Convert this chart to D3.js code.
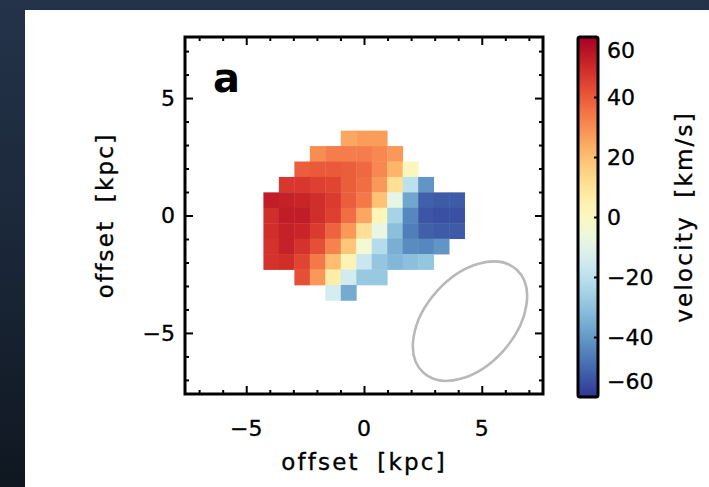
<!DOCTYPE html>
<html>
<head>
<meta charset="utf-8">
<script src="https://cdn.jsdelivr.net/npm/d3@7"></script>
<style>
  html, body { margin: 0; padding: 0; background: #16202d; }
  svg { display: block; }
  text { font-family: "DejaVu Sans", sans-serif; fill: #000; stroke: #000; stroke-width: 0.35px; }
</style>
</head>
<body>
<div id="chart"></div>
<script>
// velocity field (km/s), rows from top to bottom, null = no pixel
var velRows = [
  [null, null, null, null, null,  25,  27,  27, null, null, null, null, null],
  [null, null, null,  30,  33,  33,  33,  31,  28, null, null, null, null],
  [null, null,  39,  40,  40,  39,  37,  31,  22,   1, null, null, null],
  [null,  47,  47,  45,  44,  39,  36,  28,  11, -20, -41, null, null],
  [  53,  52,  51,  49,  46,  39,  34,  19,  -9, -37, -52, -53, -53],
  [  49,  53,  53,  49,  45,  36,  25,   2, -25, -44, -54, -55, -55],
  [  49,  52,  51,  46,  38,  28,  11,  -8, -31, -46, -52, -53, -53],
  [  48,  52,  48,  42,  32,  18,  -4, -22, -35, -43, -44, -41, null],
  [  48,  49,  44,  34,  20,   3, -17, -29, -33, -31, -29, null, null],
  [null, null,  42,  28,   6, -15, -28, -28, null, null, null, null, null],
  [null, null, null, null, -14, -36, null, null, null, null, null, null, null]
];
var pixKpc = 0.657;          // pixel size in kpc
var centerCol = 6, centerRow = 5;

var majorTicks = [-5, 0, 5];
var minorTicks = [-7, -6, -4, -3, -2, -1, 1, 2, 3, 4, 6, 7];
var cbarTicks = [-60, -40, -20, 0, 20, 40, 60];
var velRange = [-60, 60];

// beam (kpc, degrees)
var beam = {x: 4.5, y: -4.5, a: 2.95, b: 1.9, angle: 48};

var W = 709, H = 487;
var box = {left: 185, right: 543, top: 37, bottom: 394};

var svg = d3.select("#chart").append("svg")
    .attr("width", W)
    .attr("height", H);

var defs = svg.append("defs");

// dark frame around the white page
var bg = defs.append("linearGradient").attr("id", "bgGrad")
    .attr("x1", 0).attr("y1", 0).attr("x2", 0).attr("y2", 1);
bg.append("stop").attr("offset", "0%").attr("stop-color", "#24334a");
bg.append("stop").attr("offset", "50%").attr("stop-color", "#1b2739");
bg.append("stop").attr("offset", "100%").attr("stop-color", "#0f1720");

svg.append("rect").attr("width", W).attr("height", H).attr("fill", "url(#bgGrad)");
svg.append("rect").attr("x", 25).attr("y", 10)
    .attr("width", W - 25).attr("height", H - 10)
    .attr("fill", "#fff");

var x = d3.scaleLinear().domain([-7.6, 7.6]).range([box.left, box.right]);
var y = d3.scaleLinear().domain([-7.6, 7.6]).range([box.bottom, box.top]);

// RdYlBu, red = receding
var color = d3.scaleSequential(function(t) { return d3.interpolateRdYlBu(1 - t); })
    .domain(velRange);

// flatten the grid into pixels
var pixels = [];
velRows.forEach(function(row, r) {
  row.forEach(function(v, c) {
    if (v === null) return;
    pixels.push({
      x: (c - centerCol) * pixKpc,
      y: (centerRow - r) * pixKpc,
      v: v
    });
  });
});

var pw = x(pixKpc) - x(0);
var ph = y(0) - y(pixKpc);

svg.append("g").attr("class", "map")
  .selectAll("rect")
  .data(pixels)
  .enter().append("rect")
    .attr("x", function(d) { return x(d.x - pixKpc / 2); })
    .attr("y", function(d) { return y(d.y + pixKpc / 2); })
    .attr("width", pw + 0.4)
    .attr("height", ph + 0.4)
    .attr("fill", function(d) { return color(d.v); });

// beam ellipse
var bx = x(beam.x), by = y(beam.y);
svg.append("ellipse")
    .attr("cx", bx).attr("cy", by)
    .attr("rx", x(beam.a) - x(0))
    .attr("ry", y(0) - y(beam.b))
    .attr("transform", "rotate(" + (-beam.angle) + "," + bx + "," + by + ")")
    .attr("fill", "none")
    .attr("stroke", "#b8b8b8")
    .attr("stroke-width", 2.6);

// ticks on all four sides, pointing in
function tickAxis(gen, scale, vals, len, tx, ty) {
  var g = svg.append("g")
      .attr("transform", "translate(" + tx + "," + ty + ")")
      .call(gen(scale).tickValues(vals).tickSizeInner(-len).tickSizeOuter(0).tickFormat(""));
  g.select(".domain").remove();
  g.selectAll("line").attr("stroke", "#000").attr("stroke-width", 2);
  return g;
}
tickAxis(d3.axisBottom, x, majorTicks, 8, 0, box.bottom);
tickAxis(d3.axisBottom, x, minorTicks, 4, 0, box.bottom);
tickAxis(d3.axisTop, x, majorTicks, 8, 0, box.top);
tickAxis(d3.axisTop, x, minorTicks, 4, 0, box.top);
tickAxis(d3.axisLeft, y, majorTicks, 8, box.left, 0);
tickAxis(d3.axisLeft, y, minorTicks, 4, box.left, 0);
tickAxis(d3.axisRight, y, majorTicks, 8, box.right, 0);
tickAxis(d3.axisRight, y, minorTicks, 4, box.right, 0);

// frame
svg.append("rect")
    .attr("x", box.left).attr("y", box.top)
    .attr("width", box.right - box.left)
    .attr("height", box.bottom - box.top)
    .attr("fill", "none")
    .attr("stroke", "#000")
    .attr("stroke-width", 3);

var fmt = function(v) { return v < 0 ? "\u2212" + Math.abs(v) : String(v); };

// tick labels
svg.append("g").selectAll("text")
  .data(majorTicks).enter().append("text")
    .attr("x", function(d) { return x(d); })
    .attr("y", 436)
    .attr("text-anchor", "middle")
    .attr("font-size", 22)
    .text(fmt);

svg.append("g").selectAll("text")
  .data(majorTicks).enter().append("text")
    .attr("x", 175)
    .attr("y", function(d) { return y(d); })
    .attr("dy", "0.36em")
    .attr("text-anchor", "end")
    .attr("font-size", 22)
    .text(fmt);

// axis titles
svg.append("text")
    .attr("x", x(0))
    .attr("y", 470)
    .attr("text-anchor", "middle")
    .attr("font-size", 23)
    .style("letter-spacing", "2.2px")
    .style("word-spacing", "8px")
    .text("offset [kpc]");

svg.append("text")
    .attr("transform", "translate(113," + y(0) + ") rotate(-90)")
    .attr("text-anchor", "middle")
    .attr("font-size", 23)
    .style("letter-spacing", "2.2px")
    .style("word-spacing", "8px")
    .text("offset [kpc]");

// panel letter
svg.append("text")
    .attr("x", 213)
    .attr("y", 92)
    .attr("font-size", 40)
    .attr("font-weight", "bold")
    .style("stroke-width", 0)
    .text("a");

// colour bar
var cb = {x: 578, w: 20};
var cy = d3.scaleLinear().domain(velRange).range([397, 37]);

var grad = defs.append("linearGradient").attr("id", "cbarGrad")
    .attr("x1", 0).attr("y1", 1).attr("x2", 0).attr("y2", 0);
d3.range(0, 1.0001, 0.05).forEach(function(t) {
  grad.append("stop")
      .attr("offset", (t * 100) + "%")
      .attr("stop-color", color(velRange[0] + t * (velRange[1] - velRange[0])));
});

svg.append("rect")
    .attr("x", cb.x).attr("y", cy(60))
    .attr("width", cb.w).attr("height", cy(-60) - cy(60))
    .attr("rx", 2)
    .attr("fill", "url(#cbarGrad)")
    .attr("stroke", "#000")
    .attr("stroke-width", 3);

tickAxis(d3.axisRight, cy, [-40, -20, 0, 20, 40], 4, cb.x + cb.w, 0);

svg.append("g").selectAll("text")
  .data(cbarTicks).enter().append("text")
    .attr("x", 607)
    .attr("y", function(d) {
      if (d === 60) return cy(d) + 13;
      if (d === -60) return cy(d) - 16;
      return cy(d) + 0.5;
    })
    .attr("dy", "0.36em")
    .attr("font-size", 22)
    .text(fmt);

svg.append("text")
    .attr("transform", "translate(692," + cy(0) + ") rotate(-90)")
    .attr("text-anchor", "middle")
    .attr("font-size", 23)
    .style("letter-spacing", "2.2px")
    .style("word-spacing", "8px")
    .text("velocity [km/s]");
</script>
</body>
</html>
